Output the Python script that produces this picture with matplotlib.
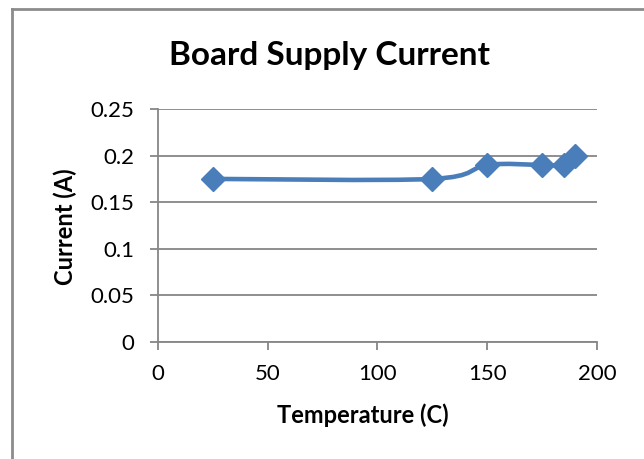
import numpy as np
import matplotlib.pyplot as plt
from matplotlib.path import Path
from matplotlib.patches import PathPatch
from matplotlib.lines import Line2D

temperature = [25, 125, 150, 175, 185, 190]
current = [0.175, 0.175, 0.19, 0.19, 0.19, 0.2]
x_ticks = [0, 50, 100, 150, 200]
y_ticks = [0, 0.05, 0.1, 0.15, 0.2, 0.25]
y_labels = ['0', '0.05', '0.1', '0.15', '0.2', '0.25']

blue = '#4A7EBB'
grey = '#868686'
plt.rcParams['font.family'] = ['Lato', 'DejaVu Sans']


def smooth_path(ax, xs, ys):
    # Excel-style smoothing: cubic bezier through points (catmull-rom), in display space
    pts = ax.transData.transform(np.column_stack([xs, ys]))
    n = len(pts)
    verts = [pts[0]]
    codes = [Path.MOVETO]
    for i in range(n - 1):
        p0 = pts[i - 1] if i > 0 else pts[i]
        p1 = pts[i]
        p2 = pts[i + 1]
        p3 = pts[i + 2] if i + 2 < n else pts[i + 1]
        c1 = p1 + (p2 - p0) / 6.0
        c2 = p2 - (p3 - p1) / 6.0
        verts += [c1, c2, p2]
        codes += [Path.CURVE4] * 3
    return Path(verts, codes)


fig = plt.figure(figsize=(6.44, 4.59), dpi=100)
ax = fig.add_axes([0.2453, 0.2549, 0.6817, 0.5076])
ax.set_xlim(0, 200)
ax.set_ylim(0, 0.25)
ax.set_xticks(x_ticks)
ax.set_yticks(y_ticks)
ax.set_yticklabels(y_labels)
ax.yaxis.grid(True, color=grey, linewidth=1.3)
ax.set_axisbelow(True)
for side in ['top', 'right']:
    ax.spines[side].set_visible(False)
for side in ['left', 'bottom']:
    ax.spines[side].set_color(grey)
    ax.spines[side].set_linewidth(1.3)
ax.tick_params(axis='both', direction='out', length=6, width=1.3, color=grey,
               labelsize=16)
ax.tick_params(axis='y', pad=11)
ax.tick_params(axis='x', pad=10)

fig.canvas.draw()
path = smooth_path(ax, temperature, current)
ax.add_patch(PathPatch(path, transform=None, facecolor='none', edgecolor=blue,
                       linewidth=3.3, capstyle='round', joinstyle='round', zorder=3))
ax.plot(temperature, current, linestyle='none', marker='D', markersize=12.5,
        color=blue, zorder=4, clip_on=False)

fig.text(0.512, 0.88, 'Board Supply Current', ha='center', va='center',
         fontsize=24, fontweight='bold')
fig.text(0.5636, 1 - 415 / 459, 'Temperature (C)', ha='center', va='center',
         fontsize=17, fontweight='bold')
fig.text(65 / 644, 1 - 227 / 459, 'Current (A)', ha='center', va='center',
         rotation=90, fontsize=17, fontweight='bold')

# chart border (left and top edges visible)
fig.add_artist(Line2D([12.5 / 644, 12.5 / 644], [0, 1 - 9 / 459], color='#8C8C8C', linewidth=2))
fig.add_artist(Line2D([12.5 / 644, 1], [1 - 9 / 459, 1 - 9 / 459], color='#8C8C8C', linewidth=2))

fig.savefig('out.png', dpi=100)
